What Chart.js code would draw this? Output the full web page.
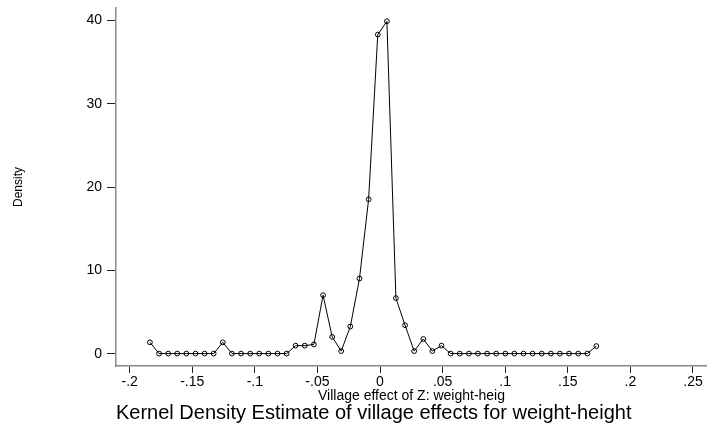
<!DOCTYPE html>
<html>
<head>
<meta charset="utf-8">
<script src="https://cdn.jsdelivr.net/npm/chart.js@4/dist/chart.umd.min.js"></script>
<style>
    html, body { margin: 0; padding: 0; background: #fff; }
    #wrap { width: 707px; height: 428px; }
</style>
</head>
<body>
<div id="wrap"><canvas id="kdensity"></canvas></div>
<script>
// Kernel grid (50 points) and density values
const gridX = [
    -0.1838, -0.1765, -0.1692, -0.1620, -0.1547, -0.1474, -0.1401, -0.1329, -0.1256, -0.1183,
    -0.1110, -0.1037, -0.0965, -0.0892, -0.0819, -0.0746, -0.0674, -0.0601, -0.0528, -0.0455,
    -0.0382, -0.0310, -0.0237, -0.0164, -0.0091, -0.0018, 0.0055, 0.0127, 0.0200, 0.0273,
    0.0346, 0.0418, 0.0491, 0.0564, 0.0637, 0.0710, 0.0782, 0.0855, 0.0928, 0.1001,
    0.1073, 0.1146, 0.1219, 0.1292, 0.1365, 0.1437, 0.1510, 0.1583, 0.1656, 0.1728
]
const density = [
    1.4, 0.05, 0.05, 0.05, 0.05, 0.05, 0.05, 0.05, 1.4, 0.05,
    0.05, 0.05, 0.05, 0.05, 0.05, 0.05, 1.0, 1.0, 1.15, 7.05,
    2.05, 0.35, 3.3, 9.05, 18.55, 38.3, 39.9, 6.7, 3.45, 0.35,
    1.8, 0.35, 1.0, 0.05, 0.05, 0.05, 0.05, 0.05, 0.05, 0.05,
    0.05, 0.05, 0.05, 0.05, 0.05, 0.05, 0.05, 0.05, 0.05, 0.95
]

// Axis ticks (Stata-style labels)
const xTicks = [-0.2, -0.15, -0.1, -0.05, 0, 0.05, 0.1, 0.15, 0.2, 0.25]
const xTickLabels = ['-.2', '-.15', '-.1', '-.05', '0', '.05', '.1', '.15', '.2', '.25']
const yTicks = [0, 10, 20, 30, 40]

const FONT = "'Liberation Sans', Arial, sans-serif"
const AXIS_GRAY = '#8a8a8a'

const points = gridX.map((x, i) => ({ x: x, y: density[i] }))

// no extra room for edge labels, the plot runs to the canvas edge like the original
function noEdgePadding(scale) {
    scale.paddingLeft = 0
    scale.paddingRight = 0
    scale.paddingTop = 0
    scale.paddingBottom = 0
}

new Chart(document.getElementById('kdensity'), {
    type: 'scatter',
    data: {
        datasets: [{
            data: points,
            showLine: true,
            borderColor: '#000',
            borderWidth: 1,
            pointRadius: 2.4,
            pointBorderWidth: 1,
            pointBorderColor: '#000',
            pointBackgroundColor: 'rgba(255,255,255,0)',
            tension: 0
        }]
    },
    options: {
        responsive: true,
        maintainAspectRatio: false,
        animation: false,
        layout: { autoPadding: false, padding: { top: 8, right: 0, bottom: 0, left: 0 } },
        plugins: {
            legend: { display: false },
            tooltip: { enabled: false },
            title: {
                display: true,
                position: 'bottom',
                fullSize: false,
                align: 'start',
                text: 'Kernel Density Estimate of village effects for weight-height',
                color: '#000',
                font: { family: FONT, size: 20, weight: 'normal', lineHeight: 1 },
                padding: { top: 0, bottom: 5 }
            }
        },
        scales: {
            x: {
                type: 'linear',
                min: -0.2109,
                max: 0.2612,
                afterBuildTicks: (scale) => { scale.ticks = xTicks.map(v => ({ value: v })) },
                afterFit: (scale) => { scale.height = 37; noEdgePadding(scale) },
                ticks: {
                    color: '#000',
                    font: { family: FONT, size: 14 },
                    padding: 1,
                    maxRotation: 0,
                    autoSkip: false,
                    callback: (value) => {
                        const i = xTicks.findIndex(t => Math.abs(t - value) < 1e-9)
                        return i >= 0 ? xTickLabels[i] : ''
                    }
                },
                grid: { drawOnChartArea: false, drawTicks: true, tickLength: 7, color: '#222' },
                border: { display: true, color: AXIS_GRAY, width: 1.5 },
                title: {
                    display: true,
                    text: 'Village effect of Z: weight-heig',
                    color: '#000',
                    font: { family: FONT, size: 14, lineHeight: 1 },
                    padding: { top: 0, bottom: 0 }
                }
            },
            y: {
                type: 'linear',
                min: -1.44,
                max: 41.49,
                afterBuildTicks: (scale) => { scale.ticks = yTicks.map(v => ({ value: v })) },
                afterFit: (scale) => { scale.width = 116; noEdgePadding(scale) },
                ticks: {
                    color: '#000',
                    font: { family: FONT, size: 14 },
                    padding: 5
                },
                grid: { drawOnChartArea: false, drawTicks: true, tickLength: 9, color: '#222' },
                border: { display: true, color: AXIS_GRAY, width: 1.5 },
                title: {
                    display: true,
                    text: 'Density',
                    color: '#000',
                    font: { family: FONT, size: 12, lineHeight: 1.2 },
                    padding: { top: 11, bottom: 0 }
                }
            }
        }
    }
})
</script>
</body>
</html>
